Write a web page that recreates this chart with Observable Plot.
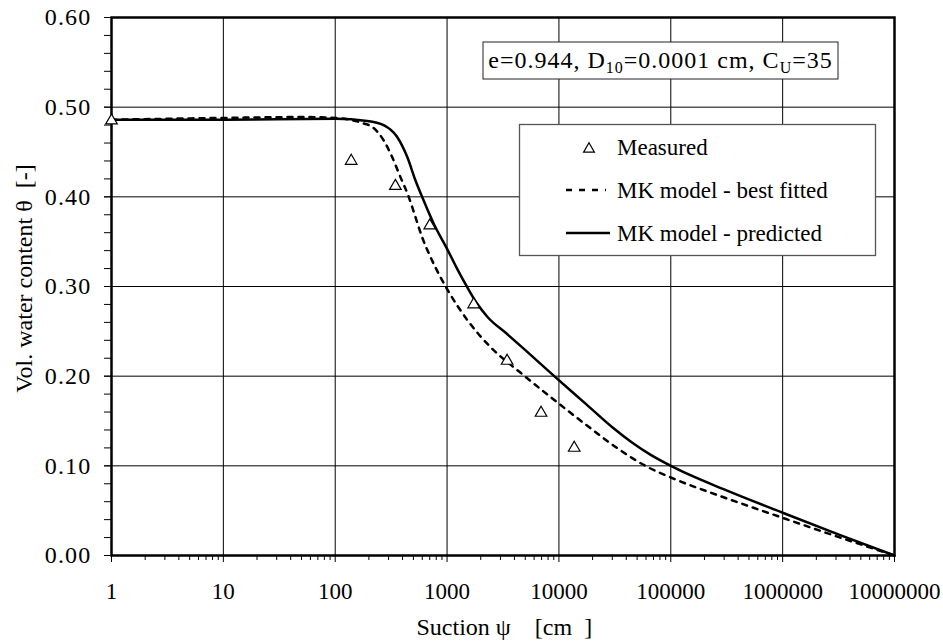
<!DOCTYPE html>
<html>
<head>
<meta charset="utf-8">
<script src="https://cdn.jsdelivr.net/npm/d3@7"></script>
<script src="https://cdn.jsdelivr.net/npm/@observablehq/plot@0.6"></script>
<style>
  html, body { margin: 0; padding: 0; background: white; }
  #chart svg { display: block; }
</style>
</head>
<body>
<div id="chart"></div>
<script>
// Measured points
const measPsi   = [1, 139, 345, 700, 1730, 3440, 6920, 13700];
const measTheta = [0.485, 0.440, 0.412, 0.368, 0.280, 0.217, 0.159, 0.120];

// MK model - best fitted (dashed)
const fitPsi   = [1, 10, 50, 100, 178, 214, 271, 322, 383, 454, 521, 598, 710, 871, 1035, 1510, 2440, 4520, 9620, 17800, 33000, 61300, 100000, 296000, 1000000, 3270000, 10000000];
const fitTheta = [0.486, 0.488, 0.489, 0.488, 0.482, 0.478, 0.463, 0.4446, 0.422, 0.400, 0.3776, 0.355, 0.333, 0.3106, 0.294, 0.263, 0.2325, 0.204, 0.171, 0.145, 0.120, 0.099, 0.087, 0.065, 0.042, 0.020, 0.000];

// MK model - predicted (solid)
const predPsi   = [1, 10, 100, 193, 271, 357, 440, 521, 598, 760, 1000, 1228, 1510, 1854, 2300, 3440, 5010, 9290, 17800, 30000, 45000, 65600, 100000, 296000, 1000000, 3270000, 10000000];
const predTheta = [0.486, 0.486, 0.487, 0.4847, 0.480, 0.467, 0.4446, 0.4185, 0.400, 0.370, 0.342, 0.320, 0.2995, 0.281, 0.266, 0.247, 0.229, 0.199, 0.168, 0.143, 0.126, 0.1125, 0.100, 0.074, 0.0477, 0.0228, 0.000];

// Ticks
const xTicks = [1, 10, 100, 1000, 10000, 100000, 1000000, 10000000];
const xTickLabels = ["1", "10", "100", "1000", "10000", "100000", "1000000", "10000000"];
const yTicks = [0, 0.1, 0.2, 0.3, 0.4, 0.5, 0.6];
const yTickLabels = ["0.00", "0.10", "0.20", "0.30", "0.40", "0.50", "0.60"];
const xMinor = xTicks.slice(0, -1).flatMap(d => [2,3,4,5,6,7,8,9].map(k => k * d));
const yMinor = d3.range(0, 61, 2).map(v => v / 100);

// Texts
const xTitle = "Suction ψ\u00A0\u00A0\u00A0\u00A0[cm\u00A0\u00A0]";
const yTitle = "Vol. water content θ\u00A0\u00A0[-]";
const infoParts = ["e=0.944, D", "10", "=0.0001 cm, C", "U", "=35"];
const legendLabels = ["Measured", "MK model - best fitted", "MK model - predicted"];

const measured = measPsi.map((p, i) => ({psi: p, theta: measTheta[i]}));
const fitted = fitPsi.map((p, i) => ({psi: p, theta: fitTheta[i]}));
const predicted = predPsi.map((p, i) => ({psi: p, theta: predTheta[i]}));

const font = "Liberation Serif, Times New Roman, serif";

const chart = Plot.plot({
  width: 943,
  height: 644,
  marginLeft: 111,
  marginRight: 49,
  marginTop: 17,
  marginBottom: 89,
  style: "font-family: 'Liberation Serif', 'Times New Roman', serif; font-size: 23px; color: black; background: white; overflow: visible;",
  x: {type: "log", domain: [1, 1e7]},
  y: {domain: [0, 0.6]},
  marks: [
    Plot.gridX(xTicks, {stroke: "black", strokeOpacity: 1, strokeWidth: 1}),
    Plot.gridY(yTicks, {stroke: "black", strokeOpacity: 1, strokeWidth: 1}),
    Plot.axisX(xMinor, {tickSize: 5, tickFormat: () => "", label: null, strokeWidth: 1}),
    Plot.axisX(xTicks, {tickSize: 7, tickPadding: 20, tickFormat: d => xTickLabels[xTicks.indexOf(d)], label: null, fontSize: 23, fontFamily: font, strokeWidth: 1}),
    Plot.axisY(yMinor, {tickSize: 7, tickFormat: () => "", label: null, strokeWidth: 1}),
    Plot.axisY(yTicks, {tickSize: 7, tickPadding: 13, tickFormat: d => yTickLabels[yTicks.indexOf(d)], label: null, fontSize: 24, fontFamily: font, strokeWidth: 1}),
    Plot.line(fitted, {x: "psi", y: "theta", curve: "monotone-x", stroke: "black", strokeWidth: 2.5, strokeDasharray: "5,6"}),
    Plot.line(predicted, {x: "psi", y: "theta", curve: "monotone-x", stroke: "black", strokeWidth: 2.5}),
    Plot.frame({stroke: "black", strokeWidth: 2.5}),
    Plot.dot(measured, {x: "psi", y: "theta", symbol: "triangle", r: 4.3, fill: "white", stroke: "black", strokeWidth: 1.2}),
    Plot.text([yTitle], {frameAnchor: "left", dx: -87, dy: -8, rotate: -90, fontSize: 24, fontFamily: font, textAnchor: "middle", lineAnchor: "middle"}),
    Plot.text([xTitle], {frameAnchor: "bottom-left", dx: 305, dy: 79, textAnchor: "start", lineAnchor: "bottom", fontSize: 24, fontFamily: font})
  ]
});

document.getElementById("chart").appendChild(chart);

const svg = d3.select(chart);
svg.selectAll('g[aria-label="y-axis tick label"] text').style("letter-spacing", "1.2px");

// Info box
const info = svg.append("g");
info.append("rect").attr("x", 483).attr("y", 42).attr("width", 355).attr("height", 37)
  .attr("fill", "white").attr("stroke", "#222").attr("stroke-width", 1);
const it = info.append("text").attr("x", 660.5).attr("y", 68).attr("text-anchor", "middle")
  .style("font-family", font).style("font-size", "24px").style("letter-spacing", "1px").attr("fill", "black");
it.append("tspan").text(infoParts[0]);
it.append("tspan").attr("font-size", 16).attr("dy", 5).text(infoParts[1]);
it.append("tspan").attr("dy", -5).text(infoParts[2]);
it.append("tspan").attr("font-size", 16).attr("dy", 5).text(infoParts[3]);
it.append("tspan").attr("dy", -5).text(infoParts[4]);

// Legend
const lg = svg.append("g").style("font-family", font).style("font-size", "23px").attr("text-anchor", "start");
lg.append("rect").attr("x", 519.5).attr("y", 124.5).attr("width", 356).attr("height", 131)
  .attr("fill", "white").attr("stroke", "#555").attr("stroke-width", 1.3);
lg.append("path").attr("d", d3.symbol(d3.symbolTriangle, 4 * 4 * Math.PI)())
  .attr("transform", "translate(589,149)").attr("fill", "white").attr("stroke", "black").attr("stroke-width", 1.2);
lg.append("line").attr("x1", 566).attr("x2", 606).attr("y1", 190).attr("y2", 190)
  .attr("stroke", "black").attr("stroke-width", 2.5).attr("stroke-dasharray", "6,7");
lg.append("line").attr("x1", 566).attr("x2", 610).attr("y1", 233).attr("y2", 233)
  .attr("stroke", "black").attr("stroke-width", 2.5);
[155, 198, 241].forEach((y, i) => {
  lg.append("text").attr("x", 617).attr("y", y).attr("text-anchor", "start").attr("fill", "black").text(legendLabels[i]);
});
</script>
</body>
</html>
